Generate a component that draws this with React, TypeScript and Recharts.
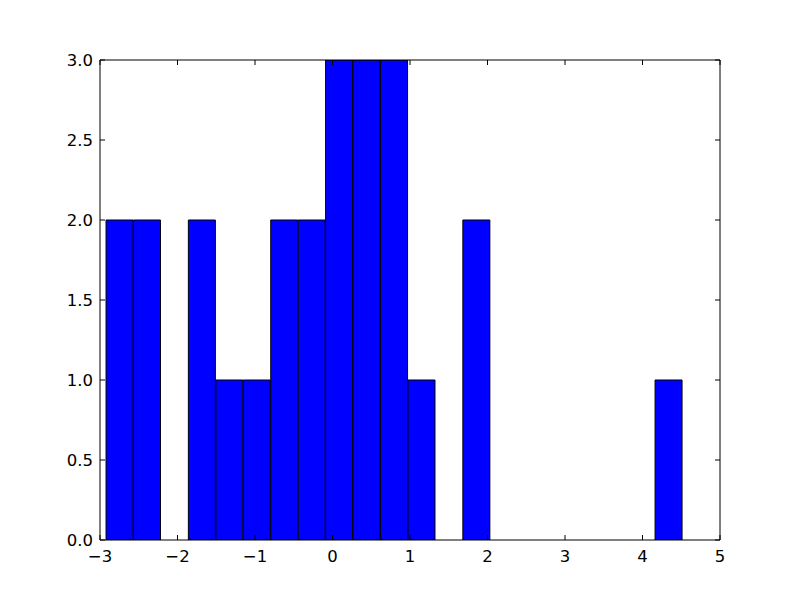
import React from 'react';
import { ComposedChart, Bar, XAxis, YAxis } from 'recharts';

const binCenters = [
  -2.745, -2.391, -2.037, -1.683, -1.328, -0.974, -0.62, -0.266, 0.088, 0.443,
  0.797, 1.151, 1.505, 1.859, 2.214, 2.568, 2.922, 3.276, 3.63, 3.985, 4.339,
];
const binCounts = [2, 2, 0, 2, 1, 1, 2, 2, 3, 3, 3, 1, 0, 2, 0, 0, 0, 0, 0, 0, 1];
const xTicks = [-3, -2, -1, 0, 1, 2, 3, 4, 5];
const yTicks = [0, 0.5, 1, 1.5, 2, 2.5, 3];

const data = binCenters.map((c, i) => ({ x: c, count: binCounts[i] }));

const FONT = 'DejaVu Sans';
const FS = 16.5;
const TL = 5;

const fmtX = (v: number) => (v < 0 ? '\u2212' + Math.abs(v) : String(v));
const fmtY = (v: number) => v.toFixed(1);

const LeftTick = (p: any) => {
  const m = 7;
  return (
    <g>
      <line x1={p.x + m} x2={p.x + m + TL} y1={p.y} y2={p.y} stroke="#000" />
      <text x={p.x} y={p.y} dy="0.355em" textAnchor="end" fontFamily={FONT} fontSize={FS} fill="#000">
        {fmtY(p.payload.value)}
      </text>
    </g>
  );
};
const RightTick = (p: any) => (
  <line x1={p.x} x2={p.x - TL} y1={p.y} y2={p.y} stroke="#000" />
);
const TopTick = (p: any) => (
  <line x1={p.x} x2={p.x} y1={p.y} y2={p.y + TL} stroke="#000" />
);
const BottomTick = (p: any) => {
  const m = 10;
  return (
    <g>
      <line x1={p.x} x2={p.x} y1={p.y - m} y2={p.y - m - TL} stroke="#000" />
      <text x={p.x} y={p.y} dy="0.71em" textAnchor="middle" fontFamily={FONT} fontSize={FS} fill="#000">
        {fmtX(p.payload.value)}
      </text>
    </g>
  );
};

export default function App() {
  return (
    <div style={{ position: 'absolute', left: 0, top: 0, width: 800, height: 600, background: '#fff' }}>
      <ComposedChart
        width={800}
        height={600}
        data={data}
        margin={{ top: 50, right: 70, bottom: 30, left: 40 }}
        barCategoryGap={0}
        barGap={0}
      >
        <XAxis
          xAxisId="b"
          dataKey="x"
          type="number"
          domain={[-3, 5]}
          ticks={xTicks}
          interval={0}
          allowDataOverflow
          orientation="bottom"
          height={30}
          tickSize={0}
          tickMargin={10}
          tickLine={false}
          axisLine={{ stroke: '#000', strokeWidth: 1 }}
          tick={<BottomTick />}
        />
        <XAxis
          xAxisId="t"
          dataKey="x"
          type="number"
          domain={[-3, 5]}
          ticks={xTicks}
          interval={0}
          allowDataOverflow
          orientation="top"
          height={10}
          tickSize={0}
          tickMargin={0}
          tickLine={false}
          axisLine={{ stroke: '#000', strokeWidth: 1 }}
          tick={<TopTick />}
        />
        <YAxis
          yAxisId="l"
          type="number"
          domain={[0, 3]}
          ticks={yTicks}
          interval={0}
          allowDataOverflow
          orientation="left"
          width={60}
          tickSize={0}
          tickMargin={7}
          tickLine={false}
          axisLine={{ stroke: '#000', strokeWidth: 1 }}
          tick={<LeftTick />}
        />
        <YAxis
          yAxisId="r"
          type="number"
          domain={[0, 3]}
          ticks={yTicks}
          interval={0}
          allowDataOverflow
          orientation="right"
          width={10}
          tickSize={0}
          tickMargin={0}
          tickLine={false}
          axisLine={{ stroke: '#000', strokeWidth: 1 }}
          tick={<RightTick />}
        />
        <Bar
          xAxisId="b"
          yAxisId="l"
          dataKey="count"
          fill="#0000ff"
          stroke="#000"
          strokeWidth={1}
          isAnimationActive={false}
        />
      </ComposedChart>
    </div>
  );
}
